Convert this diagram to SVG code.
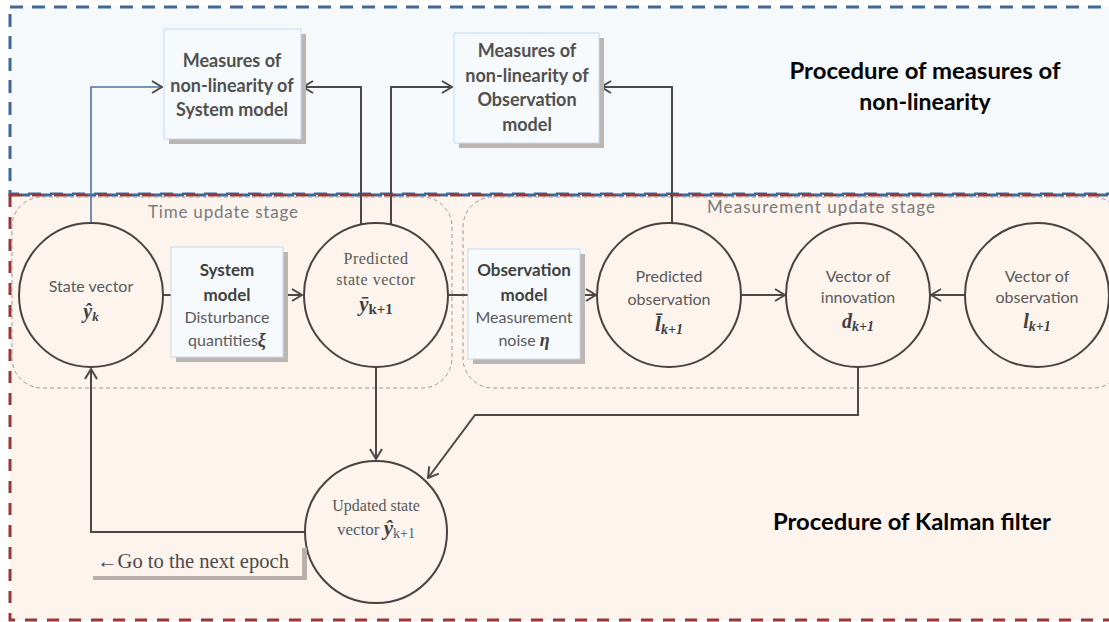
<svg xmlns="http://www.w3.org/2000/svg" width="1109" height="622" viewBox="0 0 1109 622">
<style>
.sans{font-family:Lato,"Open Sans","Liberation Sans",sans-serif}
.serif{font-family:"Liberation Serif","DejaVu Serif",serif}
.node{fill:#fdf4ee;stroke:#4a4242;stroke-width:2}
.box{fill:#f7fafd;stroke:#c6d9ee;stroke-width:1}
.shadow{fill:#bcb6b3}
.lbl{fill:#595959;font-size:16px;text-anchor:middle}
.blbl{fill:#404040;font-size:17px;font-weight:bold;text-anchor:middle}
.mlbl{fill:#505050;font-size:18px;font-weight:bold;text-anchor:middle}
.math{font-family:"Liberation Serif","DejaVu Serif",serif;font-style:italic;font-weight:bold;fill:#404040}
.title{fill:#000;font-size:23px;font-weight:bold;text-anchor:middle}
.stage{fill:#7a7a7a;font-size:17px}
.grp{fill:none;stroke:#9a9a9a;stroke-width:1;stroke-dasharray:4 3}
.con{fill:none;stroke:#4d4747;stroke-width:2}
</style>
<defs>
<marker id="arr" viewBox="0 0 12 14" refX="11" refY="7" markerWidth="12" markerHeight="14" markerUnits="userSpaceOnUse" orient="auto">
<path d="M1,1 L11,7 L1,13" fill="none" stroke="#4d4747" stroke-width="2"/>
</marker>
</defs>
<rect x="0" y="0" width="1109" height="622" fill="#ffffff"/>
<!-- regions -->
<g id="region-measures">
<rect x="10" y="7" width="1110" height="187" fill="#f6f9fc" stroke="#3e6898" stroke-width="3" stroke-dasharray="13 9"/>
</g>
<g id="region-kalman">
<rect x="10" y="195" width="1110" height="425" fill="#fdf4ee" stroke="#9a3636" stroke-width="3" stroke-dasharray="12 10"/>
<line x1="10" y1="195" x2="1109" y2="195" stroke="#3e6898" stroke-width="3" stroke-dasharray="8 14" stroke-dashoffset="-12"/>
</g>
<g id="group-time">
<rect class="grp" x="12" y="197" width="440" height="191" rx="30"/>
<text class="sans stage" x="148" y="218" textLength="150" lengthAdjust="spacing">Time update stage</text>
</g>
<g id="group-measurement">
<rect class="grp" x="463" y="197" width="660" height="191" rx="30"/>
<text class="sans stage" x="707" y="213" textLength="228" lengthAdjust="spacing">Measurement  update stage</text>
</g>
<!-- titles -->
<g id="title-measures">
<text class="sans title" x="925" y="79" textLength="271" lengthAdjust="spacingAndGlyphs">Procedure of measures of</text>
<text class="sans title" x="925" y="110">non-linearity</text>
</g>
<g id="title-kalman">
<text class="sans title" x="912" y="530" textLength="278" lengthAdjust="spacingAndGlyphs">Procedure of Kalman filter</text>
</g>
<!-- connectors -->
<g id="connectors">
<path d="M91,223 V87 H162" fill="none" stroke="#4f73a3" stroke-width="1.6" marker-end="url(#arr)"/>
<path class="con" d="M361,225 V87 H303" marker-end="url(#arr)"/>
<path class="con" d="M391,225 V87 H452" marker-end="url(#arr)"/>
<path class="con" d="M672,223 V87 H601" marker-end="url(#arr)"/>
<path class="con" d="M163,295 H171"/>
<path class="con" d="M283,295 H302" marker-end="url(#arr)"/>
<path class="con" d="M448,295 H468"/>
<path class="con" d="M580,295 H596" marker-end="url(#arr)"/>
<path class="con" d="M741,295 H785" marker-end="url(#arr)"/>
<path class="con" d="M965,295 H931" marker-end="url(#arr)"/>
<path class="con" d="M376,367 V459" marker-end="url(#arr)"/>
<path class="con" d="M858,367 V415 H475 L428,478" marker-end="url(#arr)"/>
<path class="con" d="M304,532 H91 V369" marker-end="url(#arr)"/>
</g>
<!-- nodes -->
<g id="measures-system">
<rect class="shadow" x="169" y="34" width="137" height="110" fill="#c4c4c4"/>
<rect class="box" x="164" y="29" width="137" height="110"/>
<text class="sans mlbl" x="232" y="67">Measures of</text>
<text class="sans mlbl" x="232" y="92">non-linearity of</text>
<text class="sans mlbl" x="232" y="116">System model</text>
</g>
<g id="measures-observation">
<rect class="shadow" x="459" y="38" width="145" height="110" fill="#c4c4c4"/>
<rect class="box" x="454" y="33" width="145" height="110"/>
<text class="sans mlbl" x="527" y="57">Measures of</text>
<text class="sans mlbl" x="527" y="82">non-linearity of</text>
<text class="sans mlbl" x="527" y="106">Observation</text>
<text class="sans mlbl" x="527" y="131">model</text>
</g>
<g id="state-vector">
<circle class="node" cx="91" cy="295" r="72"/>
<text class="sans lbl" x="91" y="292">State vector</text>
<text class="math" x="91" y="318" font-size="20" text-anchor="middle">ŷ<tspan font-size="13" dy="3">k</tspan></text>
</g>
<g id="system-model">
<rect class="shadow" x="176" y="252" width="112" height="110"/>
<rect class="box" x="171" y="247" width="112" height="110"/>
<text class="sans blbl" x="227" y="276">System</text>
<text class="sans blbl" x="227" y="301">model</text>
<text class="sans lbl" x="227" y="323">Disturbance</text>
<text class="sans lbl" x="227" y="346">quantities<tspan class="math" font-weight="normal" font-size="18">ξ</tspan></text>
</g>
<g id="predicted-state">
<circle class="node" cx="376" cy="295" r="72"/>
<text class="serif lbl" x="376" y="264" font-size="17" letter-spacing="0.5">Predicted</text>
<text class="serif lbl" x="376" y="285" font-size="17" letter-spacing="0.5">state vector</text>
<text x="376" y="311" text-anchor="middle"><tspan class="math" font-size="21">ȳ</tspan><tspan font-family="Liberation Serif,serif" font-weight="bold" font-size="15" fill="#404040" dy="3">k+1</tspan></text>
</g>
<g id="observation-model">
<rect class="shadow" x="473" y="254" width="112" height="110"/>
<rect class="box" x="468" y="249" width="112" height="110"/>
<text class="sans blbl" x="524" y="276">Observation</text>
<text class="sans blbl" x="524" y="301">model</text>
<text class="sans lbl" x="524" y="323">Measurement</text>
<text class="sans lbl" x="524" y="346">noise <tspan class="math" font-weight="normal" font-size="18">η</tspan></text>
</g>
<g id="predicted-observation">
<circle class="node" cx="669" cy="295" r="72"/>
<text class="sans lbl" x="669" y="282">Predicted</text>
<text class="sans lbl" x="669" y="305">observation</text>
<text x="669" y="331" text-anchor="middle"><tspan class="math" font-size="21">l̄</tspan><tspan class="math" font-size="14" dy="3">k</tspan><tspan class="math" font-style="normal" font-size="14">+1</tspan></text>
</g>
<g id="vector-innovation">
<circle class="node" cx="858" cy="295" r="72"/>
<text class="sans lbl" x="858" y="282">Vector of</text>
<text class="sans lbl" x="858" y="303">innovation</text>
<text x="858" y="328" text-anchor="middle"><tspan class="math" font-size="20">d</tspan><tspan class="math" font-size="14" dy="3">k</tspan><tspan class="math" font-style="normal" font-size="14">+1</tspan></text>
</g>
<g id="vector-observation">
<circle class="node" cx="1037" cy="295" r="72"/>
<text class="sans lbl" x="1037" y="282">Vector of</text>
<text class="sans lbl" x="1037" y="303">observation</text>
<text x="1037" y="328" text-anchor="middle"><tspan class="math" font-size="20">l</tspan><tspan class="math" font-size="14" dy="3">k</tspan><tspan class="math" font-style="normal" font-size="14">+1</tspan></text>
</g>
<g id="updated-state">
<circle class="node" cx="376" cy="532" r="71"/>
<text class="serif lbl" x="376" y="511" font-size="17" fill="#4a5a70">Updated state</text>
<text x="376" y="535" text-anchor="middle" font-family="Liberation Serif,serif" font-size="17" fill="#4a5a70">vector <tspan class="math" font-size="21">ŷ</tspan><tspan font-size="14" dy="3" fill="#4a5a70">k+1</tspan></text>
</g>
<g id="next-epoch">
<rect x="93" y="576" width="214" height="4" fill="#b8b0ac"/>
<rect x="302" y="548" width="5" height="32" fill="#b8b0ac"/>
<text class="serif" x="97" y="568" font-size="20" fill="#4a4a4a" textLength="192" lengthAdjust="spacingAndGlyphs">←Go to the next epoch</text>
</g>
</svg>
